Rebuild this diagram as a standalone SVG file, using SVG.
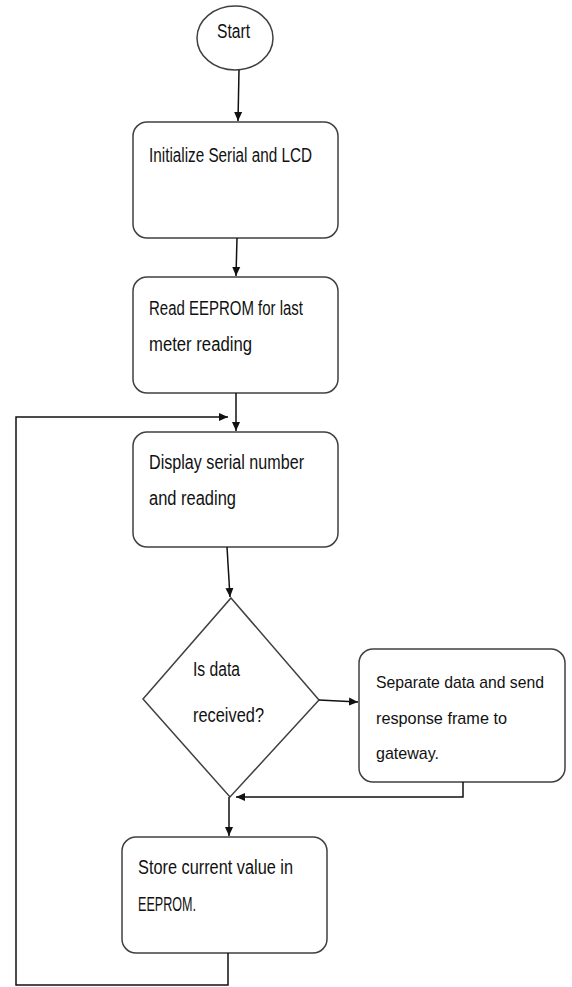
<svg xmlns="http://www.w3.org/2000/svg" width="572" height="987" viewBox="0 0 572 987">
<style>
.box{fill:#fff;stroke:#404040;stroke-width:1.5}
.t{font-family:"Liberation Sans",Arial,sans-serif;font-size:20px;fill:#111}
.s{font-size:17px}
.c{fill:none;stroke:#111;stroke-width:1.5}
</style>
<defs>
<marker id="ah" markerWidth="10" markerHeight="10" refX="9" refY="5" orient="auto" markerUnits="userSpaceOnUse">
<path d="M0,1 L9,5 L0,9 Z" fill="#111"/>
</marker>
</defs>
<rect width="572" height="987" fill="#fff"/>
<g id="start">
<ellipse class="box" cx="235" cy="38" rx="38" ry="32"/>
<text class="t" x="217" y="38" textLength="33" lengthAdjust="spacingAndGlyphs">Start</text>
</g>
<g id="init">
<rect class="box" x="133" y="122" width="205" height="116" rx="14"/>
<text class="t" x="149" y="162" textLength="163" lengthAdjust="spacingAndGlyphs">Initialize Serial and LCD</text>
</g>
<g id="readEeprom">
<rect class="box" x="133" y="277" width="205" height="116" rx="14"/>
<text class="t" x="149" y="315" textLength="154" lengthAdjust="spacingAndGlyphs">Read EEPROM for last</text>
<text class="t" x="149" y="351" textLength="103" lengthAdjust="spacingAndGlyphs">meter reading</text>
</g>
<g id="display">
<rect class="box" x="133" y="432" width="205" height="115" rx="14"/>
<text class="t" x="149" y="469" textLength="155" lengthAdjust="spacingAndGlyphs">Display serial number</text>
<text class="t" x="149" y="505" textLength="87" lengthAdjust="spacingAndGlyphs">and reading</text>
</g>
<g id="decision">
<polygon class="box" points="231,598 319,700 230,797 143,699"/>
<text class="t" x="193" y="676" textLength="47" lengthAdjust="spacingAndGlyphs">Is data</text>
<text class="t" x="193" y="722" textLength="71" lengthAdjust="spacingAndGlyphs">received?</text>
</g>
<g id="separate">
<rect class="box" x="359" y="649" width="206" height="133" rx="14"/>
<text class="t s" x="376" y="688" textLength="168" lengthAdjust="spacingAndGlyphs">Separate data and send</text>
<text class="t s" x="376" y="724" textLength="131" lengthAdjust="spacingAndGlyphs">response frame to</text>
<text class="t s" x="376" y="759" textLength="63" lengthAdjust="spacingAndGlyphs">gateway.</text>
</g>
<g id="store">
<rect class="box" x="122" y="837" width="205" height="116" rx="14"/>
<text class="t" x="138" y="874" textLength="155" lengthAdjust="spacingAndGlyphs">Store current value in</text>
<text class="t" x="138" y="911" textLength="58" lengthAdjust="spacingAndGlyphs">EEPROM.</text>
</g>
<g id="connectors">
<path class="c" d="M239,70 L238,121" marker-end="url(#ah)"/>
<path class="c" d="M237,238 L236,276" marker-end="url(#ah)"/>
<path class="c" d="M236,393 L236,431" marker-end="url(#ah)"/>
<path class="c" d="M227,547 L230,597" marker-end="url(#ah)"/>
<path class="c" d="M319,700 L358,702" marker-end="url(#ah)"/>
<path class="c" d="M463,782 L463,797 L236,797" marker-end="url(#ah)"/>
<path class="c" d="M229,797 L229,836" marker-end="url(#ah)"/>
<path class="c" d="M228,953 L228,985 L16,985 L16,417 L228,417" marker-end="url(#ah)"/>
</g>
</svg>
